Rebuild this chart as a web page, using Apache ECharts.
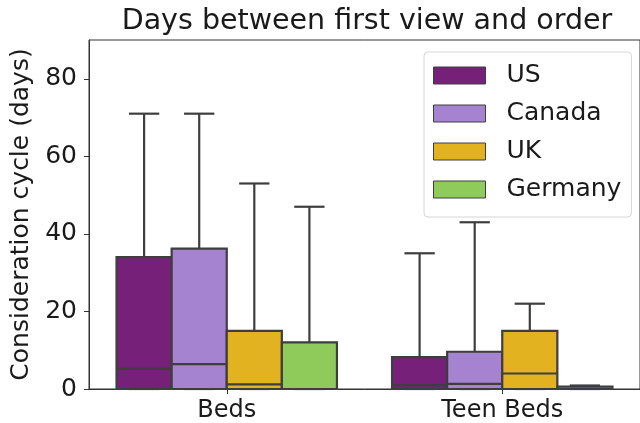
<!DOCTYPE html>
<html>
<head>
<meta charset="utf-8">
<script src="https://cdn.jsdelivr.net/npm/echarts@6/dist/echarts.min.js"></script>
<style>
  html, body { margin: 0; padding: 0; background: #fff; }
  #chart { width: 640px; height: 423px; }
</style>
</head>
<body>
<div id="chart"></div>
<script>
// Product categories on the x axis
const categories = ['Beds', 'Teen Beds'];
// Countries (one box per country inside each category)
const countries = ['US', 'Canada', 'UK', 'Germany'];
const colors = ['#77207A', '#A683D1', '#E3B220', '#8FCB5B'];

// Box statistics per country: [lower whisker, Q1, median, Q3, upper whisker], one row per category
const usStats      = [[0, 0, 5.2, 34, 71], [0, 0, 1, 8.2, 35]];
const canadaStats  = [[0, 0, 6.4, 36.2, 71], [0, 0, 1.3, 9.6, 43]];
const ukStats      = [[0, 0, 1.2, 15, 53], [0, 0, 4, 15, 22]];
const germanyStats = [[0, 0, 0, 12, 47], [0, 0, 0, 0.6, 0.9]];

const yTicks = [0, 20, 40, 60, 80];

const allStats = [usStats, canadaStats, ukStats, germanyStats];
const edge = '#3e3e3e';

function makeRender(seriesIdx) {
  return function (params, api) {
    const cat = api.value(0);
    const bandW = api.size([1, 0])[0];
    const groupW = bandW * 0.8;
    const boxW = groupW / countries.length;
    const center = api.coord([cat, 0])[0];
    const x0 = center - groupW / 2 + boxW * seriesIdx;
    const cx = x0 + boxW / 2;
    const capW = boxW * 0.55;
    const y = v => api.coord([cat, v])[1];
    const lo = y(api.value(1)), q1 = y(api.value(2)), med = y(api.value(3)),
          q3 = y(api.value(4)), hi = y(api.value(5));
    const lineStyle = { stroke: edge, lineWidth: 2.2 };
    return {
      type: 'group',
      children: [
        { type: 'line', shape: { x1: cx, y1: q3, x2: cx, y2: hi }, style: lineStyle },
        { type: 'line', shape: { x1: cx - capW / 2, y1: hi, x2: cx + capW / 2, y2: hi }, style: lineStyle },
        { type: 'line', shape: { x1: cx, y1: q1, x2: cx, y2: lo }, style: lineStyle },
        { type: 'line', shape: { x1: cx - capW / 2, y1: lo, x2: cx + capW / 2, y2: lo }, style: lineStyle },
        { type: 'rect', shape: { x: x0, y: q3, width: boxW, height: q1 - q3 },
          style: { fill: colors[seriesIdx], stroke: edge, lineWidth: 2.2 } },
        { type: 'line', shape: { x1: x0, y1: med, x2: x0 + boxW, y2: med }, style: lineStyle }
      ]
    };
  };
}

const series = countries.map((name, i) => ({
  name: name,
  type: 'custom',
  renderItem: makeRender(i),
  itemStyle: { color: colors[i], borderColor: edge, borderWidth: 1 },
  encode: { x: 0, y: [1, 2, 3, 4, 5] },
  data: allStats[i].map((s, c) => [c].concat(s)),
  clip: false
}));

const chart = echarts.init(document.getElementById('chart'), null, { renderer: 'canvas' });
chart.setOption({
  animation: false,
  backgroundColor: '#ffffff',
  textStyle: { fontFamily: 'DejaVu Sans' },
  title: {
    text: 'Days between first view and order',
    left: 362, top: 2, textAlign: 'center',
    textStyle: { fontFamily: 'DejaVu Sans', fontSize: 28.5, fontWeight: 'normal', color: '#1a1a1a' }
  },
  grid: {
    left: 89, top: 40, width: 558, height: 350,
    show: true, borderColor: '#333', borderWidth: 1, backgroundColor: 'transparent'
  },
  legend: {
    orient: 'vertical',
    left: 424, top: 52,
    padding: [11, 10, 15, 9],
    itemWidth: 52, itemHeight: 17, itemGap: 13,
    icon: 'rect',
    backgroundColor: 'rgba(255,255,255,0.85)',
    borderColor: '#d6d6d6', borderWidth: 1, borderRadius: 4,
    textStyle: { fontFamily: 'DejaVu Sans', fontSize: 25, color: '#1a1a1a', padding: [0, 0, 0, 16] },
    itemStyle: { borderColor: edge, borderWidth: 1 },
    data: countries
  },
  xAxis: {
    type: 'category',
    data: categories,
    boundaryGap: true,
    axisLine: { show: true, lineStyle: { color: '#333', width: 1 } },
    axisTick: { show: true, alignWithLabel: true, length: 5, lineStyle: { color: '#333' } },
    axisLabel: { fontFamily: 'DejaVu Sans', fontSize: 24, color: '#1a1a1a', margin: 10 },
    splitLine: { show: false }
  },
  yAxis: {
    type: 'value',
    min: 0, max: 90, interval: 20,
    name: 'Consideration cycle (days)',
    nameLocation: 'middle', nameGap: 47,
    nameTextStyle: { fontFamily: 'DejaVu Sans', fontSize: 25, color: '#1a1a1a' },
    axisLine: { show: true, lineStyle: { color: '#333', width: 1 } },
    axisTick: { show: true, length: 5, customValues: yTicks, lineStyle: { color: '#333' } },
    axisLabel: { fontFamily: 'DejaVu Sans', fontSize: 25, color: '#1a1a1a', margin: 12, customValues: yTicks },
    splitLine: { show: false }
  },
  series: series
});
</script>
</body>
</html>
